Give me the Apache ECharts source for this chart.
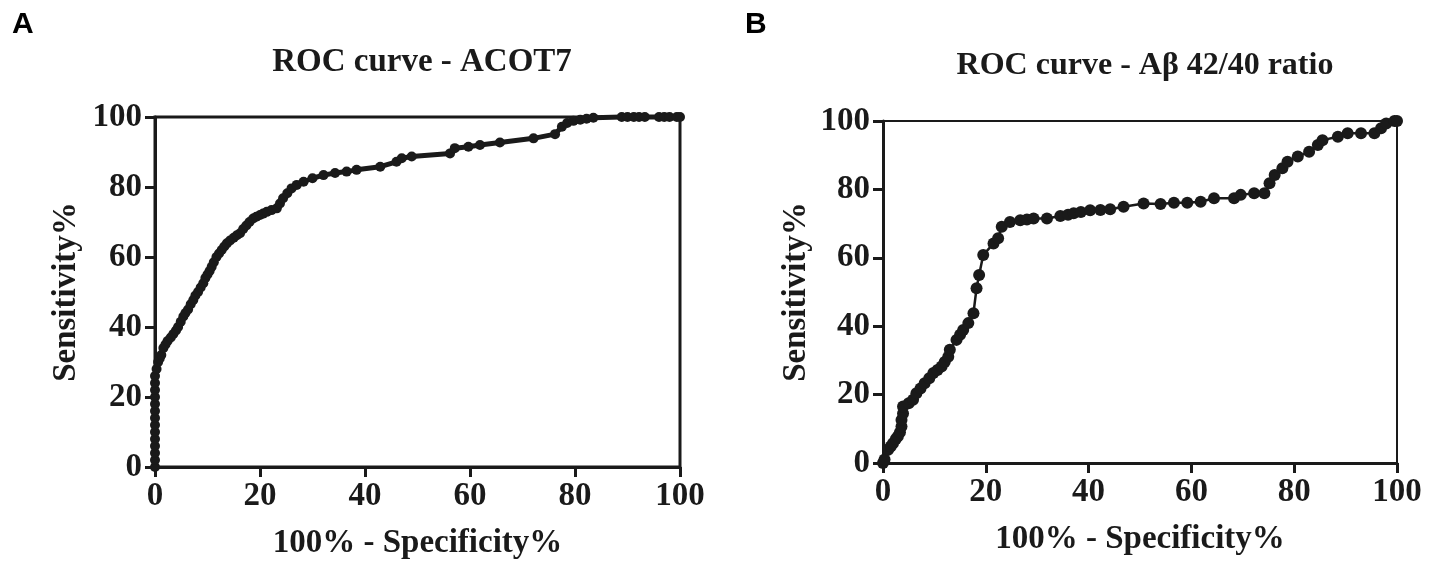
<!DOCTYPE html>
<html>
<head>
<meta charset="utf-8">
<script src="https://cdn.jsdelivr.net/npm/echarts@6/dist/echarts.min.js"></script>
<style>
  html, body { margin: 0; padding: 0; background: #fff; }
  #chart { width: 1429px; height: 569px; }
</style>
</head>
<body>
<div id="chart"></div>
<script>
// panel A: ACOT7 (100% - specificity, sensitivity)
const acotX = [0, 0, 0, 0, 0, 0, 0, 0, 0, 0, 0, 0, 0, 0, 0.3, 0.6, 0.9, 1.2, 1.6, 2, 2.4, 3, 3.5,
  4, 4.4, 4.9, 5.4, 5.8, 6.3, 6.8, 7.3, 7.7, 8.2, 8.7, 9.2, 9.6, 10, 10.4, 10.8, 11.2, 11.7,
  12.2, 12.7, 13.2, 13.7, 14.3, 15, 15.6, 16.2, 16.8, 17.4, 18, 18.7, 19.3, 20, 20.6,
  21.3, 22.2, 23.2, 23.8, 24.4, 25.2, 26, 27, 28.3, 30, 32.1, 34.3, 36.5, 38.4, 42.9, 46, 47, 48.9, 56.2,
  57.1, 59.7, 61.9, 65.7, 72.1, 76.2, 77.5, 78.5, 79.7, 81, 82.2, 83.5, 88.9, 90, 91.2,
  92.2, 93.3, 96, 97, 98, 99.4, 100];
const acotY = [0, 2, 4, 6, 8, 10, 12, 14, 16, 18, 20, 22, 24, 26, 28, 30, 31, 32, 34, 35, 36, 37, 38,
  39, 40, 41.5, 43, 44, 45, 46.5, 47.7, 49, 50, 51.3, 52.5, 54, 55, 56, 57.2, 58.5, 60,
  61, 62, 63, 63.9, 64.7, 65.5, 66.2, 66.8, 68, 69, 70, 71, 71.5, 72, 72.4,
  72.9, 73.4, 73.9, 75.3, 76.8, 78.2, 79.6, 80.6, 81.5, 82.5, 83.4, 84, 84.4, 84.9, 85.8, 87.2, 88.2, 88.7, 89.6,
  91.1, 91.5, 92, 92.7, 93.9, 95.1, 97.2, 98.3, 98.9, 99.2, 99.5, 99.8, 100, 100, 100,
  100, 100, 100, 100, 100, 100, 100];

// panel B: Abeta 42/40 ratio
const abX = [0, 0.3, 1, 1.5, 1.95, 2.5, 2.9, 3.3, 3.6, 3.6, 3.9, 3.9, 5, 5.85, 6.5, 7.3,
  8.1, 9, 9.8, 10.6, 11.4, 12, 12.7, 13, 14.3, 15, 15.6, 16.6, 17.6, 18.2, 18.7, 19.5,
  21.5, 22.4, 23.1, 24.7, 26.7, 28, 29.3, 31.9, 34.5, 36, 37.1, 38.5, 40.3, 42.3, 44.2,
  46.8, 50.7, 54, 56.6, 59.2, 61.8, 64.4, 68.3, 69.6, 72.2, 74.2, 75.2, 76.2, 77.7,
  78.7, 80.7, 82.9, 84.6, 85.5, 88.5, 90.4, 93, 95.6, 96.9, 97.9, 99.5, 100];
const abY = [0, 1, 3.9, 4.8, 5.8, 7, 7.8, 9, 10.7, 12.6, 14.5, 16.5, 17.5, 18.5, 20.4, 21.8,
  23.3, 24.8, 26.3, 27.2, 28.2, 29.5, 31.1, 33.1, 36, 37.5, 38.9, 40.9, 43.8, 51.1, 55, 60.8,
  64.2, 65.7, 69.1, 70.5, 71, 71.2, 71.5, 71.5, 72.2, 72.6, 73, 73.4, 73.9, 74, 74.2,
  74.9, 75.9, 75.7, 76.1, 76.1, 76.4, 77.4, 77.4, 78.4, 78.9, 78.9, 81.8, 84.2, 86.2,
  88.1, 89.6, 91, 93, 94.4, 95.4, 96.4, 96.4, 96.4, 97.9, 99.3, 100, 100];

const titles = ['ROC curve - ACOT7', 'ROC curve - Aβ 42/40 ratio'];
const xName = '100% - Specificity%';
const yName = 'Sensitivity%';

const ink = '#1a1a1a';
const serif = '"Liberation Serif", "Times New Roman", serif';

function pairs(xs, ys) {
  return xs.map((x, i) => [x, ys[i]]);
}

function xAxisFor(idx, gap) {
  return {
    gridIndex: idx, type: 'value', min: 0, max: 100, interval: 20,
    name: xName, nameLocation: 'middle', nameGap: gap,
    nameTextStyle: { fontFamily: serif, fontWeight: 'bold', fontSize: 33, color: ink },
    axisLine: { lineStyle: { color: ink, width: 3 } },
    axisTick: { length: 10, lineStyle: { color: ink, width: 3 } },
    axisLabel: { fontFamily: serif, fontWeight: 'bold', fontSize: 33, color: ink, margin: 13 },
    splitLine: { show: false }
  };
}

function yAxisFor(idx, gap) {
  return {
    gridIndex: idx, type: 'value', min: 0, max: 100, interval: 20,
    name: yName, nameLocation: 'middle', nameGap: gap,
    nameTextStyle: { fontFamily: serif, fontWeight: 'bold', fontSize: 33, color: ink },
    axisLine: { lineStyle: { color: ink, width: 3 } },
    axisTick: { length: 10, lineStyle: { color: ink, width: 3 } },
    axisLabel: { fontFamily: serif, fontWeight: 'bold', fontSize: 33, color: ink, margin: 13 },
    splitLine: { show: false }
  };
}

const chart = echarts.init(document.getElementById('chart'), null, { renderer: 'canvas' });

chart.setOption({
  backgroundColor: '#fff',
  animation: false,
  title: [
    { text: 'A', left: 7, top: 5, textStyle: { fontFamily: '"Liberation Sans", Arial, sans-serif', fontWeight: 'bold', fontSize: 30, color: '#000' } },
    { text: 'B', left: 740, top: 5, textStyle: { fontFamily: '"Liberation Sans", Arial, sans-serif', fontWeight: 'bold', fontSize: 30, color: '#000' } },
    { text: titles[0], left: 417, top: 41, textAlign: 'center', textStyle: { fontFamily: serif, fontWeight: 'bold', fontSize: 33, color: ink } },
    { text: titles[1], left: 1140, top: 45, textAlign: 'center', textStyle: { fontFamily: serif, fontWeight: 'bold', fontSize: 32, color: ink } }
  ],
  grid: [
    { left: 155, right: 749, top: 117, bottom: 102, show: true, borderColor: ink, borderWidth: 3, backgroundColor: 'transparent' },
    { left: 883, right: 32, top: 121, bottom: 106, show: true, borderColor: ink, borderWidth: 2, backgroundColor: 'transparent' }
  ],
  xAxis: [xAxisFor(0, 60), xAxisFor(1, 60)],
  yAxis: [yAxisFor(0, 72), yAxisFor(1, 70)],
  series: [
    {
      type: 'line', xAxisIndex: 0, yAxisIndex: 0, clip: false,
      data: pairs(acotX, acotY),
      symbol: 'circle', symbolSize: 10,
      itemStyle: { color: ink },
      lineStyle: { color: ink, width: 5 }
    },
    {
      type: 'line', xAxisIndex: 1, yAxisIndex: 1, clip: false,
      data: pairs(abX, abY),
      symbol: 'circle', symbolSize: 12,
      itemStyle: { color: ink },
      lineStyle: { color: ink, width: 2.5 }
    }
  ]
});
</script>
</body>
</html>
